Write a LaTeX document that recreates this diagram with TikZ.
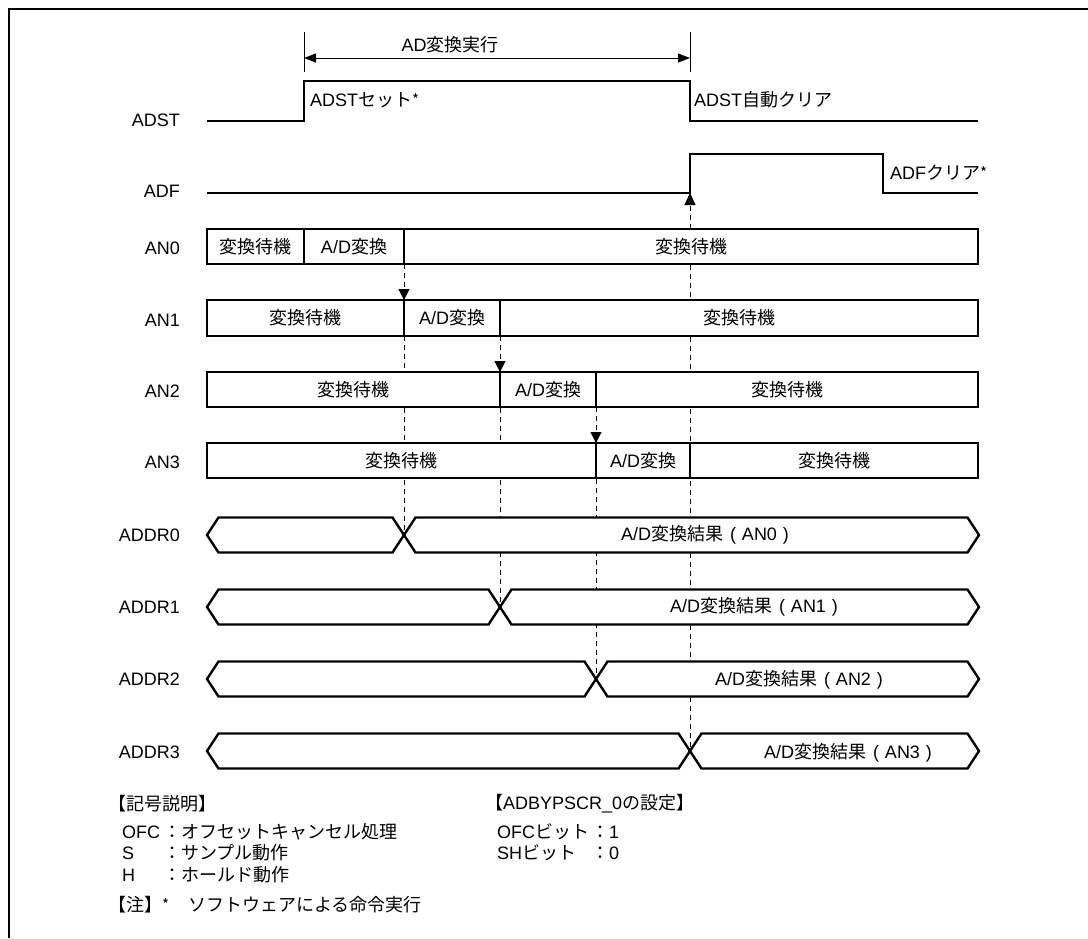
\documentclass[tikz,border=0pt]{standalone}
\usepackage{fontspec}
\setmainfont{Liberation Sans}
\newfontfamily\jp{Noto Sans CJK JP}
\newcommand\J[1]{{\jp #1}}
\newcommand\fs{\fontsize{18}{22}\selectfont}
\newcommand\myast{{\jp\fontsize{15}{16}\selectfont\raisebox{1pt}{*}}}
\newcommand\res[1]{A/D\J{変換結果}\hspace{7pt}(\hspace{6pt}AN#1\hspace{6pt})}
\usetikzlibrary{arrows.meta}
\begin{document}
\begin{tikzpicture}[x=1pt,y=-1pt,
  sig/.style={line width=2.4pt, line join=miter},
  boxline/.style={line width=2.4pt, fill=white, line join=miter},
  guide/.style={line width=1pt, dash pattern=on 5pt off 4pt},
  thinline/.style={line width=1pt},
  frameline/.style={line width=2pt},
  txt/.style={inner sep=0pt, font=\fs, text=black},
  lbl/.style={txt, anchor=east},
  lft/.style={txt, anchor=west},
  tipdown/.style={-{Triangle[length=11pt,width=11pt]}},
  dimtip/.style={{Triangle[length=12pt,width=9pt]}-{Triangle[length=12pt,width=9pt]}}]
\useasboundingbox (0,0) rectangle (1088,938);
\fill[white] (0,0) rectangle (1088,938);
% frame
\draw[frameline] (9,938) -- (9,9) -- (1088,9);

% ---------- dimension arrow ----------
\coordinate (tkAt) at (304,32); \coordinate (tkAb) at (304,72);
\coordinate (tkBt) at (690,32); \coordinate (tkBb) at (690,72);
\coordinate (dimA) at (304,58); \coordinate (dimB) at (690,58);
\draw[thinline] (tkAt) -- (tkAb);
\draw[thinline] (tkBt) -- (tkBb);
\draw[thinline, dimtip] (dimA) -- (dimB);
\node[txt] (dimlbl) at (450,45) {AD\J{変換実行}};

% ---------- ADST / ADF ----------
\draw[sig] (207,121) -- (304,121) -- (304,81) -- (690,81) -- (690,121) -- (978,121);
\draw[sig] (207,193) -- (690,193) -- (690,154) -- (883,154) -- (883,193) -- (978,193);
\node[lbl] (lADST) at (180,120) {ADST};
\node[lbl] (lADF) at (180,191) {ADF};
\node[lft] (setlbl) at (310,100) {ADST\J{セット}\myast};
\node[lft] (clrlbl) at (694,100) {ADST\J{自動クリア}};
\node[lft] (adfclr) at (890,173) {ADF\J{クリア}\myast};

% ---------- guide coordinates ----------
\coordinate (adfpt) at (690,193);
\coordinate (g0t) at (690,229);
\coordinate (g0e) at (690,751);
\coordinate (a0b) at (404,264); \coordinate (a1t) at (404,300); \coordinate (x0) at (404,535);
\coordinate (b1b) at (500,336); \coordinate (b2t) at (500,372); \coordinate (x1) at (500,607);
\coordinate (c2b) at (596,407); \coordinate (c3t) at (596,443); \coordinate (x2) at (596,679);

% dashed guides (behind boxes)
\draw[guide] (g0t) -- (g0e);
\draw[guide] (a1t) -- (x0);
\draw[guide] (b2t) -- (x1);
\draw[guide] (c3t) -- (x2);
\draw[guide, -{Triangle[length=12pt,width=11pt]}] (g0t) -- (adfpt);
\draw[guide, tipdown] (a0b) -- (a1t);
\draw[guide, tipdown] (b1b) -- (b2t);
\draw[guide, tipdown] (c2b) -- (c3t);

% ---------- AN boxes ----------
\draw[boxline] (207,229) rectangle (978,264);
\draw[sig] (304,229) -- (304,264);
\draw[sig] (404,229) -- (404,264);
\draw[boxline] (207,300) rectangle (978,336);
\draw[sig] (404,300) -- (404,336);
\draw[sig] (500,300) -- (500,336);
\draw[boxline] (207,372) rectangle (978,407);
\draw[sig] (500,372) -- (500,407);
\draw[sig] (596,372) -- (596,407);
\draw[boxline] (207,443) rectangle (978,478);
\draw[sig] (596,443) -- (596,478);
\draw[sig] (690,443) -- (690,478);

\node[lbl] (lAN0) at (180,248) {AN0};
\node[lbl] (lAN1) at (180,320) {AN1};
\node[lbl] (lAN2) at (180,391) {AN2};
\node[lbl] (lAN3) at (180,462) {AN3};

\node[txt] (an0a) at (255.5,246.5) {\J{変換待機}};
\node[txt] (an0b) at (354,246.5) {A/D\J{変換}};
\node[txt] (an0c) at (691,246.5) {\J{変換待機}};
\node[txt] (an1a) at (305.5,318) {\J{変換待機}};
\node[txt] (an1b) at (452,318) {A/D\J{変換}};
\node[txt] (an1c) at (739,318) {\J{変換待機}};
\node[txt] (an2a) at (353.5,389.5) {\J{変換待機}};
\node[txt] (an2b) at (548,389.5) {A/D\J{変換}};
\node[txt] (an2c) at (787,389.5) {\J{変換待機}};
\node[txt] (an3a) at (401.5,460.5) {\J{変換待機}};
\node[txt] (an3b) at (643,460.5) {A/D\J{変換}};
\node[txt] (an3c) at (834,460.5) {\J{変換待機}};

% ---------- ADDR buses ----------
\foreach \c/\cx in {535/404, 607/500, 679/596, 751/690}{
  \draw[boxline] (207,\c) -- (218.5,\c-17.5) -- (\cx-11.5,\c-17.5) -- (\cx,\c)
     -- (\cx-11.5,\c+17.5) -- (218.5,\c+17.5) -- cycle;
  \draw[boxline] (\cx,\c) -- (\cx+11.5,\c-17.5) -- (967.5,\c-17.5) -- (979,\c)
     -- (967.5,\c+17.5) -- (\cx+11.5,\c+17.5) -- cycle;
}
\node[lbl] (lR0) at (180,535) {ADDR0};
\node[lbl] (lR1) at (180,607) {ADDR1};
\node[lbl] (lR2) at (180,679) {ADDR2};
\node[lbl] (lR3) at (180,752) {ADDR3};
\node[txt] (r0) at (705,535) {\res{0}};
\node[txt] (r1) at (754,607) {\res{1}};
\node[txt] (r2) at (799,680) {\res{2}};
\node[txt] (r3) at (848,753) {\res{3}};

% ---------- legend ----------
\node[lft] (lg0) at (108,804) {\J{【記号説明】}};
\node[lft] (lg1) at (122,832) {OFC};
\node[lft] (lg1t) at (163,832) {\J{：オフセットキャンセル処理}};
\node[lft] (lg2) at (122,853) {S};
\node[lft] (lg2t) at (163,853) {\J{：サンプル動作}};
\node[lft] (lg3) at (122,875) {H};
\node[lft] (lg3t) at (163,875) {\J{：ホールド動作}};
\node[lft] (note) at (108,905) {\J{【注】}\myast};
\node[lft] (notet) at (188,905) {\J{ソフトウェアによる命令実行}};

\node[lft] (st0) at (485,804) {\J{【}ADBYPSCR\_0\J{の設定】}};
\node[lft] (st1) at (497,832) {OFC\J{ビット}};
\node[lft] (st1v) at (591,832) {\J{：}1};
\node[lft] (st2) at (497,853) {SH\J{ビット}};
\node[lft] (st2v) at (591,853) {\J{：}0};
\end{tikzpicture}
\end{document}
